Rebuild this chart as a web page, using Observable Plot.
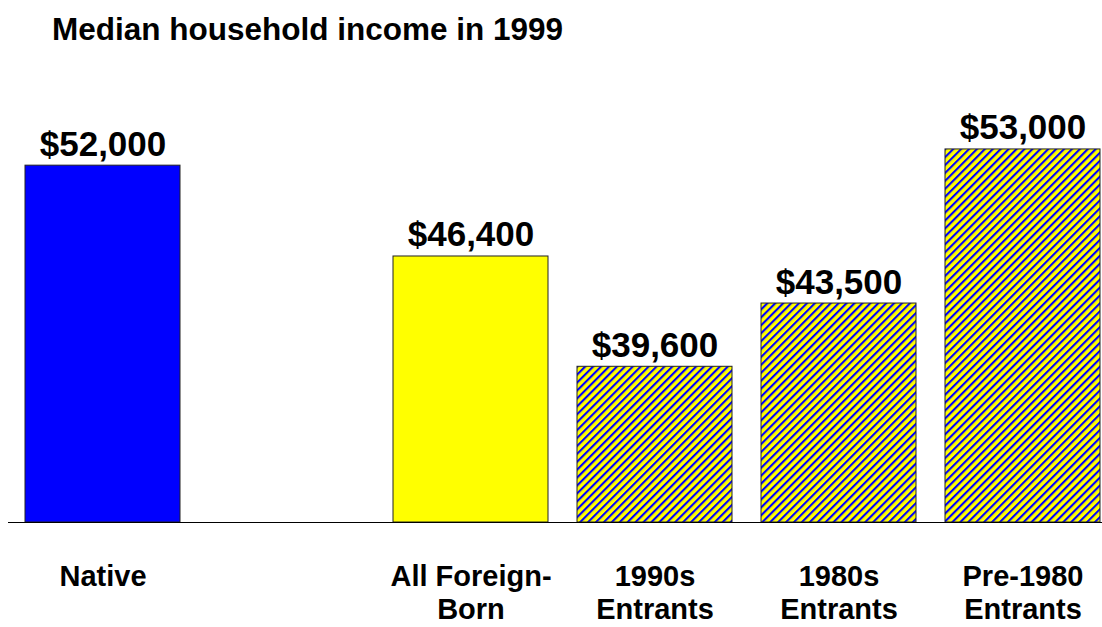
<!DOCTYPE html>
<html>
<head>
<meta charset="utf-8">
<script src="https://cdn.jsdelivr.net/npm/d3@7"></script>
<script src="https://cdn.jsdelivr.net/npm/@observablehq/plot@0.6"></script>
<style>
  html, body { margin: 0; padding: 0; background: #fff; }
  body { position: relative; width: 1102px; height: 627px; overflow: hidden; font-family: "Liberation Sans", Arial, sans-serif; }
  #title { position: absolute; left: 52px; top: 14px; font-size: 31.5px; line-height: 30px; font-weight: bold; color: #000; white-space: nowrap; }
  #chart { position: absolute; left: 0; top: 0; }
</style>
</head>
<body>
<div id="title">Median household income in 1999</div>
<div id="chart"></div>
<script>
// Data
const categories = ["Native", "", "All Foreign-\nBorn", "1990s\nEntrants", "1980s\nEntrants", "Pre-1980\nEntrants"];
const barCategories = ["Native", "All Foreign-\nBorn", "1990s\nEntrants", "1980s\nEntrants", "Pre-1980\nEntrants"];
const incomes = [52000, 46400, 39600, 43500, 53000];
const groups = ["native", "foreign", "entrants", "entrants", "entrants"];
const groupNames = ["native", "foreign", "entrants"];
const groupFills = ["#0000ff", "#ffff00", "url(#hatch)"];

const data = barCategories.map((c, i) => ({category: c, income: incomes[i], group: groups[i]}));

const chart = Plot.plot({
  width: 1102,
  height: 627,
  marginLeft: 8,
  marginRight: 0,
  marginTop: 0,
  marginBottom: 105,
  style: {fontFamily: "'Liberation Sans', Arial, sans-serif", background: "transparent"},
  x: {domain: categories, range: [8.7, 1116], paddingInner: 0.16, paddingOuter: 0.08, axis: null},
  y: {domain: [30000, 55000], range: [522, 116.5], axis: null},
  color: {domain: groupNames, range: groupFills},
  marks: [
    Plot.barY(data, {x: "category", y1: 30000, y2: "income", fill: "group", stroke: "#222", strokeWidth: 1}),
    Plot.ruleY([30000], {stroke: "#000", strokeWidth: 1.2}),
    Plot.text(data, {
      x: "category", y: "income",
      text: d => "$" + d3.format(",")(d.income),
      dy: -10, lineAnchor: "bottom",
      fontSize: 35, fontWeight: "bold", fill: "#000"
    }),
    Plot.axisX({
      tickSize: 0, tickPadding: 40, fontSize: 29, fontWeight: "bold",
      lineHeight: 1.14, fill: "#000", label: null, tickFormat: d => d
    })
  ]
});

// Hatch pattern definition
const ns = "http://www.w3.org/2000/svg";
const defs = document.createElementNS(ns, "defs");
const pat = document.createElementNS(ns, "pattern");
pat.setAttribute("id", "hatch");
pat.setAttribute("patternUnits", "userSpaceOnUse");
pat.setAttribute("width", "5.6");
pat.setAttribute("height", "10");
pat.setAttribute("patternTransform", "rotate(45)");
const bg = document.createElementNS(ns, "rect");
bg.setAttribute("width", "5.6"); bg.setAttribute("height", "10"); bg.setAttribute("fill", "#ffff00");
const st = document.createElementNS(ns, "rect");
st.setAttribute("width", "2.1"); st.setAttribute("height", "10"); st.setAttribute("fill", "#0000ff");
pat.appendChild(bg); pat.appendChild(st);
defs.appendChild(pat);
chart.insertBefore(defs, chart.firstChild);

document.getElementById("chart").appendChild(chart);
</script>
</body>
</html>
